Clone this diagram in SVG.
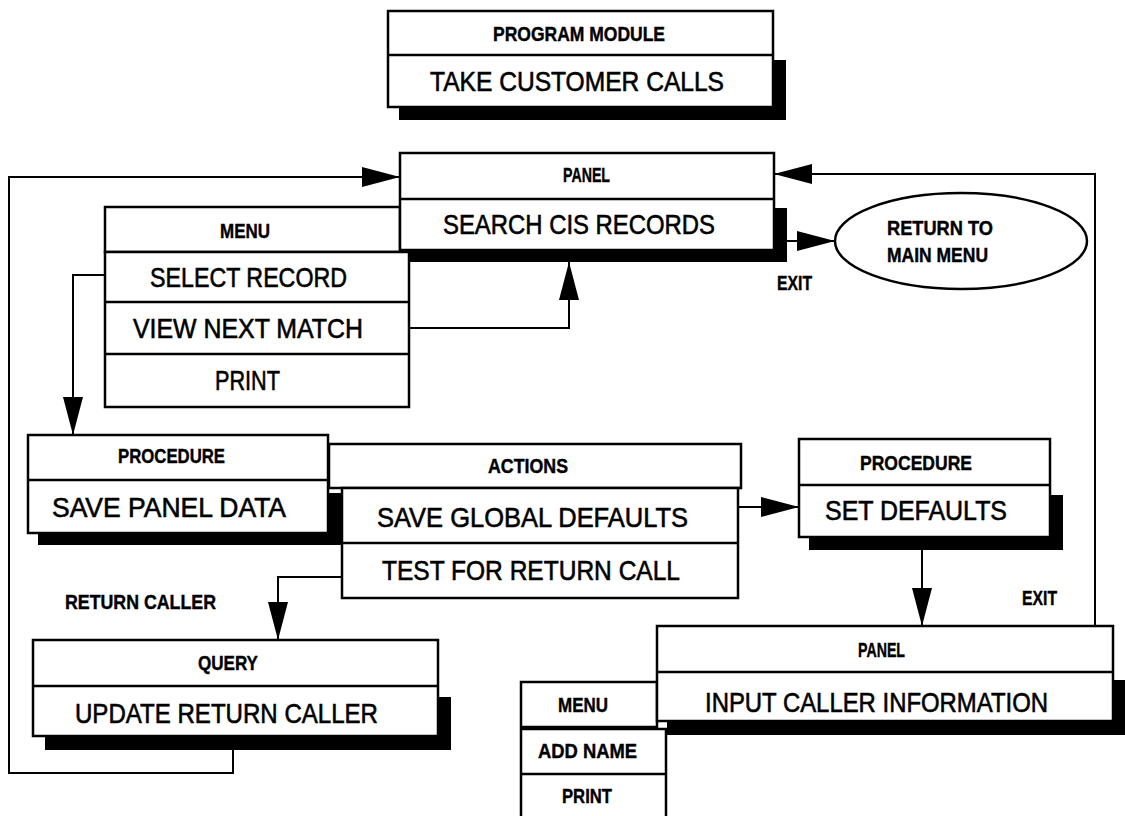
<svg xmlns="http://www.w3.org/2000/svg" width="1125" height="816" viewBox="0 0 1125 816">
<style>
.b{fill:#fff;stroke:#000;stroke-width:2.5}
.d{stroke:#000;stroke-width:2.5;fill:none}
.s{fill:#000;stroke:none}
.c{fill:none;stroke:#000;stroke-width:2}
.m{font-family:"Liberation Sans",Arial,sans-serif;font-size:28px;fill:#000;stroke:#000;stroke-width:0.6}
.h{font-family:"Liberation Sans",Arial,sans-serif;font-size:20px;font-weight:bold;fill:#000;stroke:#000;stroke-width:0.4}
</style>
<defs>
<marker id="ah" markerUnits="userSpaceOnUse" markerWidth="40" markerHeight="22" refX="38" refY="10" orient="auto" overflow="visible">
<path d="M0,0 L38,10 L0,20 Z" fill="#000"/>
</marker>
</defs>
<rect width="1125" height="816" fill="#fff"/>

<g id="connectors">
<path class="c" d="M233,750 V773 H9 V177 H400" marker-end="url(#ah)"/>
<path class="c" d="M1095,626 V174 H774" marker-end="url(#ah)"/>
<path class="c" d="M409,328 H569 V262" marker-end="url(#ah)"/>
<path class="c" d="M787,241 H835" marker-end="url(#ah)"/>
<path class="c" d="M105,275 H73 V435" marker-end="url(#ah)"/>
<path class="c" d="M738,507 H799" marker-end="url(#ah)"/>
<path class="c" d="M922,550 V626" marker-end="url(#ah)"/>
<path class="c" d="M342,577 H278 V640" marker-end="url(#ah)"/>
</g>

<g id="program-module">
<rect class="s" x="399" y="60" width="387" height="60"/>
<rect class="b" x="388" y="11" width="385" height="96"/>
<line class="d" x1="388" y1="55" x2="773" y2="55"/>
<text class="h" x="493" y="41" textLength="172" lengthAdjust="spacingAndGlyphs">PROGRAM MODULE</text>
<text class="m" x="430" y="91" textLength="294" lengthAdjust="spacingAndGlyphs">TAKE CUSTOMER CALLS</text>
</g>

<g id="menu-search">
<rect class="b" x="105" y="207" width="295" height="45"/>
<text class="h" x="220" y="238" textLength="50" lengthAdjust="spacingAndGlyphs">MENU</text>
<rect class="b" x="105" y="252" width="304" height="155"/>
<line class="d" x1="105" y1="302" x2="409" y2="302"/>
<line class="d" x1="105" y1="354" x2="409" y2="354"/>
<text class="m" x="150" y="287" textLength="197" lengthAdjust="spacingAndGlyphs">SELECT RECORD</text>
<text class="m" x="133" y="338" textLength="230" lengthAdjust="spacingAndGlyphs">VIEW NEXT MATCH</text>
<text class="m" x="215" y="390" textLength="65" lengthAdjust="spacingAndGlyphs">PRINT</text>
</g>

<g id="panel-search">
<rect class="s" x="410" y="208" width="377" height="54"/>
<rect class="b" x="400" y="153" width="374" height="97"/>
<line class="d" x1="400" y1="199" x2="774" y2="199"/>
<text class="h" x="563" y="182" textLength="47" lengthAdjust="spacingAndGlyphs">PANEL</text>
<text class="m" x="443" y="234" textLength="272" lengthAdjust="spacingAndGlyphs">SEARCH CIS RECORDS</text>
</g>

<g id="return-main-menu">
<ellipse class="b" cx="961" cy="241" rx="126" ry="48"/>
<text class="h" x="887" y="235" textLength="106" lengthAdjust="spacingAndGlyphs">RETURN TO</text>
<text class="h" x="887" y="262" textLength="101" lengthAdjust="spacingAndGlyphs">MAIN MENU</text>
</g>

<g id="label-exit-1"><text class="h" x="777" y="290" textLength="35" lengthAdjust="spacingAndGlyphs">EXIT</text></g>

<g id="procedure-save">
<rect class="s" x="38" y="493" width="304" height="52"/>
<rect class="b" x="28" y="435" width="300" height="98"/>
<line class="d" x1="28" y1="480" x2="328" y2="480"/>
<text class="h" x="118" y="463" textLength="107" lengthAdjust="spacingAndGlyphs">PROCEDURE</text>
<text class="m" x="52" y="517" textLength="234" lengthAdjust="spacingAndGlyphs">SAVE PANEL DATA</text>
</g>

<g id="actions">
<rect class="b" x="329" y="444" width="412" height="44"/>
<text class="h" x="488" y="473" textLength="80" lengthAdjust="spacingAndGlyphs">ACTIONS</text>
<rect class="b" x="342" y="488" width="396" height="110"/>
<line class="d" x1="342" y1="543" x2="738" y2="543"/>
<text class="m" x="377" y="527" textLength="311" lengthAdjust="spacingAndGlyphs">SAVE GLOBAL DEFAULTS</text>
<text class="m" x="382" y="580" textLength="298" lengthAdjust="spacingAndGlyphs">TEST FOR RETURN CALL</text>
</g>

<g id="procedure-defaults">
<rect class="s" x="809" y="495" width="254" height="55"/>
<rect class="b" x="799" y="439" width="251" height="98"/>
<line class="d" x1="799" y1="485" x2="1050" y2="485"/>
<text class="h" x="860" y="470" textLength="112" lengthAdjust="spacingAndGlyphs">PROCEDURE</text>
<text class="m" x="825" y="520" textLength="182" lengthAdjust="spacingAndGlyphs">SET DEFAULTS</text>
</g>

<g id="label-exit-2"><text class="h" x="1022" y="605" textLength="35" lengthAdjust="spacingAndGlyphs">EXIT</text></g>
<g id="label-return-caller"><text class="h" x="65" y="609" textLength="151" lengthAdjust="spacingAndGlyphs">RETURN CALLER</text></g>

<g id="query">
<rect class="s" x="45" y="697" width="406" height="53"/>
<rect class="b" x="33" y="640" width="405" height="96"/>
<line class="d" x1="33" y1="686" x2="438" y2="686"/>
<text class="h" x="198" y="670" textLength="60" lengthAdjust="spacingAndGlyphs">QUERY</text>
<text class="m" x="75" y="723" textLength="303" lengthAdjust="spacingAndGlyphs">UPDATE RETURN CALLER</text>
</g>

<g id="menu-caller">
<rect class="b" x="521" y="682" width="136" height="45"/>
<text class="h" x="558" y="712" textLength="50" lengthAdjust="spacingAndGlyphs">MENU</text>
<rect class="b" x="521" y="729" width="145" height="100"/>
<line class="d" x1="521" y1="774" x2="666" y2="774"/>
<text class="h" x="538" y="758" textLength="99" lengthAdjust="spacingAndGlyphs">ADD NAME</text>
<text class="h" x="562" y="803" textLength="50" lengthAdjust="spacingAndGlyphs">PRINT</text>
</g>

<g id="panel-caller">
<rect class="s" x="667" y="680" width="470" height="55"/>
<rect class="b" x="657" y="626" width="456" height="95"/>
<line class="d" x1="657" y1="672" x2="1113" y2="672"/>
<text class="h" x="858" y="657" textLength="47" lengthAdjust="spacingAndGlyphs">PANEL</text>
<text class="m" x="705" y="712" textLength="343" lengthAdjust="spacingAndGlyphs">INPUT CALLER INFORMATION</text>
</g>
</svg>
